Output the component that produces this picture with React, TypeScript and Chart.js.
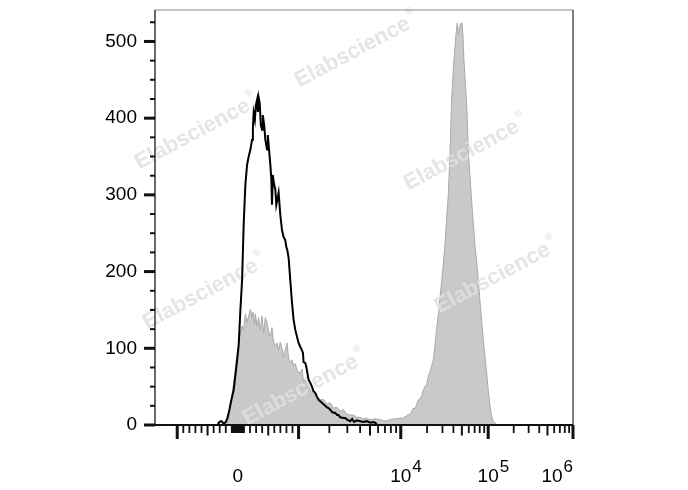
import React, { useEffect, useRef } from 'react';
import { Chart, registerables } from 'chart.js';

Chart.register(...registerables);

// ---------- data (fluorescence intensity, event count) ----------
const X_MIN = -1650;
const X_MAX = 1000000;
const Y_MAX = 541;

// unstained / isotype control (black outline)
const controlX = [-1650, -337, -304, -271, -238, -206, -173, -140, -107, -69, -41, -13, 13, 41, 69, 95, 123, 151, 178, 206, 234, 247, 260, 280, 296, 316, 329, 342, 359, 378, 398, 411, 436, 452, 480, 493, 507, 535, 551, 562, 576, 589, 617, 633, 655, 671, 699, 727, 753, 781, 798, 814, 836, 863, 888, 918, 946, 974, 1000, 1039, 1075, 1104, 1119, 1163, 1189, 1216, 1252, 1301, 1352, 1401, 1456, 1512, 1568, 1629, 1692, 1754, 1823, 1894, 1963, 2040, 2120, 2197, 2283, 2387, 2459, 2555, 2751, 2858, 2990, 3198, 3345, 3499, 3719, 4005, 4284, 4656, 5014, 5364, 5611, 5870];
const controlY = [0, 0, 4, 5, 2, 3, 9, 20, 33, 46, 65, 85, 104, 150, 189, 261, 313, 339, 350, 359, 372, 387, 407, 398, 417, 424, 408, 427, 420, 391, 385, 404, 389, 372, 359, 378, 365, 339, 320, 287, 326, 317, 307, 287, 296, 303, 274, 254, 245, 241, 232, 228, 218, 189, 163, 137, 124, 115, 107, 102, 98, 94, 82, 81, 76, 69, 59, 55, 50, 44, 42, 37, 33, 31, 29, 27, 25, 23, 22, 20, 17, 16, 16, 13, 13, 10, 9, 9, 7, 5, 8, 4, 6, 5, 4, 5, 3, 4, 3, 0];

// stained sample (grey filled)
const stainedX = [-1650, -222, -178, -151, -107, -69, -25, 13, 41, 69, 95, 123, 148, 178, 206, 234, 250, 271, 288, 312, 342, 370, 398, 424, 452, 480, 507, 535, 562, 589, 617, 645, 671, 699, 727, 753, 781, 809, 836, 863, 891, 918, 946, 974, 1000, 1039, 1080, 1119, 1163, 1208, 1252, 1301, 1401, 1512, 1629, 1754, 1894, 2040, 2197, 2371, 2555, 2751, 2970, 3198, 3444, 3719, 4005, 4313, 4656, 5014, 5611, 6281, 7025, 7865, 8796, 9845, 10700, 11700, 12200, 12770, 13350, 13930, 14570, 15230, 15880, 16610, 17370, 18110, 18940, 19810, 20660, 21600, 22590, 23560, 24640, 25760, 26870, 28100, 29380, 30640, 32040, 33500, 34940, 36540, 38210, 39860, 41680, 42790, 44280, 45690, 46660, 48160, 50100, 51430, 52800, 54920, 57120, 59110, 61810, 64640, 67420, 70500, 73720, 76880, 80400, 84070, 87700, 91680, 95870, 100000, 104700, 109600, 114500, 119900, 126600, 1000000];
const stainedY = [0, 0, 1, 9, 33, 56, 85, 108, 120, 129, 124, 145, 134, 142, 151, 140, 147, 132, 145, 129, 140, 124, 142, 120, 140, 134, 121, 116, 127, 108, 103, 107, 98, 108, 100, 89, 98, 107, 87, 80, 85, 77, 80, 72, 69, 68, 73, 56, 59, 52, 50, 46, 42, 37, 33, 33, 27, 29, 22, 23, 18, 20, 14, 13, 13, 10, 10, 8, 9, 7, 8, 7, 5, 7, 8, 9, 9, 12, 14, 13, 18, 22, 21, 27, 33, 34, 38, 46, 50, 53, 63, 69, 77, 85, 104, 127, 143, 166, 187, 209, 235, 270, 299, 352, 424, 463, 492, 509, 524, 510, 515, 523, 524, 509, 476, 443, 411, 359, 326, 293, 265, 235, 213, 189, 163, 137, 113, 91, 69, 46, 26, 12, 5, 3, 0, 0];

// ---------- ticks ----------
const Y_TICKS = [0, 100, 200, 300, 400, 500];
const Y_MINOR_TICKS = [25, 50, 75, 125, 150, 175, 225, 250, 275, 325, 350, 375, 425, 450, 475, 525];
const X_LABEL_TICKS = [0, 10000, 100000, 1000000];
const X_MAJOR_TICKS = [-1000, 1000, 10000, 100000, 1000000];
const X_MEDIUM_TICKS = [-500, 500, 5000, 50000, 500000];
const X_MINOR_TICKS = [
  -900, -800, -700, -600, -400, -300, -200, -100, -90, -80, -70, -60, -50, -40, -30, -20, -10,
  10, 20, 30, 40, 50, 60, 70, 80, 90, 100, 200, 300, 400, 600, 700, 800, 900,
  2000, 3000, 4000, 6000, 7000, 8000, 9000,
  20000, 30000, 40000, 60000, 70000, 80000, 90000,
  200000, 300000, 400000, 600000, 700000, 800000, 900000,
];
const WATERMARK = 'Elabscience';

// biexponential display transform (linear near zero, log decades above 1000)
const LIN_WIDTH = 0.608;
const DECADE_WIDTHS = [1.024, 0.876, 0.85];
function T(v: number): number {
  const s = Math.sign(v);
  const a = Math.abs(v);
  if (a <= 1000) return (s * a / 1000) * LIN_WIDTH;
  let t = LIN_WIDTH;
  let lo = 1000;
  for (let i = 0; i < DECADE_WIDTHS.length; i++) {
    const hi = lo * 10;
    if (a <= hi || i === DECADE_WIDTHS.length - 1) return s * (t + DECADE_WIDTHS[i] * Math.log10(a / lo));
    t += DECADE_WIDTHS[i];
    lo = hi;
  }
  return s * t;
}

const FONT = 'Arial, "Liberation Sans", sans-serif';

const decorPlugin = {
  id: 'flowDecor',
  afterDatasetDraw(chart: any, args: any) {
    if (args.index !== 1) return;
    const ctx = chart.ctx;
    const spots = [
      [357, 50], [197, 132], [466, 153], [205, 292], [497, 276], [305, 388],
    ];
    ctx.save();
    for (const [cx, cy] of spots) {
      ctx.save();
      ctx.translate(cx, cy);
      ctx.rotate((-28 * Math.PI) / 180);
      ctx.font = `bold 22px ${FONT}`;
      ctx.fillStyle = 'rgba(224,224,224,0.85)';
      ctx.textAlign = 'left';
      ctx.textBaseline = 'middle';
      const w = ctx.measureText(WATERMARK).width;
      ctx.fillText(WATERMARK, -w / 2 - 5, 0);
      ctx.font = `bold 10px ${FONT}`;
      ctx.fillText('®', w / 2 - 3, -10);
      ctx.restore();
    }
    ctx.restore();
  },
  afterDraw(chart: any) {
    const ctx = chart.ctx;
    const { left, right, top, bottom } = chart.chartArea;
    const xs = chart.scales.x;
    const ys = chart.scales.y;
    ctx.save();
    // frame
    ctx.lineCap = 'butt';
    ctx.strokeStyle = '#8a8a8a';
    ctx.lineWidth = 1.2;
    ctx.beginPath();
    ctx.moveTo(left, top);
    ctx.lineTo(right, top);
    ctx.stroke();
    ctx.strokeStyle = '#555';
    ctx.lineWidth = 1.5;
    ctx.beginPath();
    ctx.moveTo(right, top);
    ctx.lineTo(right, bottom);
    ctx.stroke();
    ctx.strokeStyle = '#444';
    ctx.lineWidth = 1.6;
    ctx.beginPath();
    ctx.moveTo(left, top);
    ctx.lineTo(left, bottom);
    ctx.stroke();
    ctx.strokeStyle = '#111';
    ctx.lineWidth = 2;
    ctx.beginPath();
    ctx.moveTo(left, bottom);
    ctx.lineTo(right, bottom);
    ctx.stroke();

    // y ticks
    ctx.strokeStyle = '#111';
    const yTick = (v: number, len: number, w: number) => {
      const p = ys.getPixelForValue(v);
      ctx.lineWidth = w;
      ctx.beginPath();
      ctx.moveTo(left - len, p);
      ctx.lineTo(left, p);
      ctx.stroke();
    };
    Y_TICKS.forEach((v) => yTick(v, 11, 3));
    Y_MINOR_TICKS.forEach((v) => yTick(v, 5, 2));

    // x ticks
    const xTick = (v: number, len: number, w: number) => {
      const p = xs.getPixelForValue(T(v));
      ctx.lineWidth = w;
      ctx.beginPath();
      ctx.moveTo(p, bottom);
      ctx.lineTo(p, bottom + len);
      ctx.stroke();
    };
    X_MINOR_TICKS.forEach((v) => xTick(v, 8, 1.8));
    X_MEDIUM_TICKS.forEach((v) => xTick(v, 10.5, 2));
    X_MAJOR_TICKS.forEach((v) => xTick(v, 14, 3));

    // x labels
    ctx.fillStyle = '#000';
    ctx.textBaseline = 'alphabetic';
    const baseY = 482;
    X_LABEL_TICKS.forEach((v) => {
      const p = xs.getPixelForValue(T(v));
      if (v === 0) {
        ctx.font = `19px ${FONT}`;
        ctx.textAlign = 'center';
        ctx.fillText('0', p, baseY);
        return;
      }
      const exp = String(Math.round(Math.log10(v)));
      ctx.font = `19px ${FONT}`;
      const wb = ctx.measureText('10').width;
      ctx.font = `17px ${FONT}`;
      const we = ctx.measureText(exp).width;
      let x0 = p - wb / 2;
      if (x0 + wb + 1 + we > right) x0 = right - (wb + 1 + we);
      ctx.textAlign = 'left';
      ctx.font = `19px ${FONT}`;
      ctx.fillText('10', x0, baseY);
      ctx.font = `17px ${FONT}`;
      ctx.fillText(exp, x0 + wb + 1, baseY - 10);
    });
    ctx.restore();
  },
};

export default function App() {
  const ref = useRef<HTMLCanvasElement | null>(null);
  useEffect(() => {
    if (!ref.current) return;
    const chart = new Chart(ref.current, {
      type: 'line',
      data: {
        datasets: [
          {
            label: 'Control',
            data: controlX.map((x, i) => ({ x: T(x), y: controlY[i] })),
            borderColor: '#000000',
            borderWidth: 2,
            fill: false,
            pointRadius: 0,
            tension: 0,
          },
          {
            label: 'Stained',
            data: stainedX.map((x, i) => ({ x: T(x), y: stainedY[i] })),
            borderColor: '#a9a9a9',
            borderWidth: 1,
            backgroundColor: '#c9c9c9',
            fill: 'origin',
            pointRadius: 0,
            tension: 0,
          },
        ],
      },
      options: {
        responsive: false,
        animation: false,
        layout: { padding: { top: 10, right: 115, left: 0, bottom: 0 } },
        plugins: { legend: { display: false }, tooltip: { enabled: false } },
        scales: {
          x: {
            type: 'linear',
            min: T(X_MIN),
            max: T(X_MAX),
            grid: { display: false, drawTicks: false },
            border: { display: false },
            ticks: { display: false },
            afterFit: (s: any) => { s.height = 65; s.paddingLeft = 0; s.paddingRight = 0; },
          },
          y: {
            type: 'linear',
            min: 0,
            max: Y_MAX,
            grid: { display: false, drawTicks: false },
            border: { display: false },
            afterBuildTicks: (s: any) => { s.ticks = Y_TICKS.map((v) => ({ value: v })); },
            ticks: {
              padding: 18,
              color: '#000',
              font: { family: FONT, size: 19 },
              callback: (v: any) => String(v),
            },
            afterFit: (s: any) => { s.width = 155; s.paddingTop = 0; s.paddingBottom = 0; },
          },
        },
      },
      plugins: [decorPlugin],
    } as any);
    return () => chart.destroy();
  }, []);
  return (
    <div style={{ position: 'absolute', left: 0, top: 0, width: 688, height: 490, background: '#fff' }}>
      <canvas ref={ref} width={688} height={490} style={{ display: 'block' }} />
    </div>
  );
}
